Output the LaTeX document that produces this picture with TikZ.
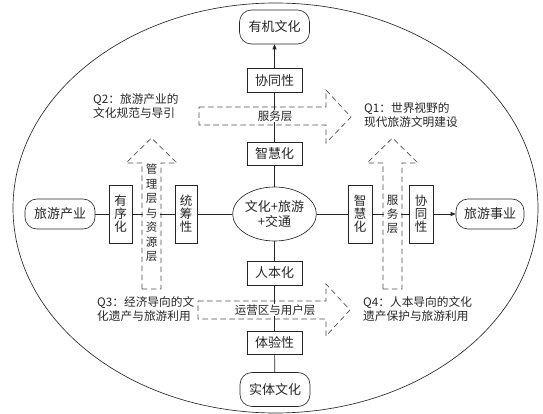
\documentclass[tikz,border=0pt]{standalone}
\usepackage{fontspec}
\setmainfont{Noto Sans CJK SC}
\usetikzlibrary{backgrounds,arrows.meta,shapes.geometric}
\definecolor{ink}{gray}{0.15}
\definecolor{dashink}{gray}{0.3}
\tikzset{
  box/.style={draw=ink, fill=white, line width=0.65pt, inner sep=0pt, text=ink,
    font=\fontsize{13}{14}\selectfont},
  hbox/.style={box, minimum width=55pt, minimum height=24pt},
  vbox/.style={box, minimum width=23pt, minimum height=58pt, align=center,
    font=\fontsize{12.5}{13}\selectfont},
  endbox/.style={box, rounded corners=12pt, minimum width=70pt, minimum height=34pt},
  conn/.style={draw=ink, line width=0.65pt},
  arr/.style={conn, -{Triangle[length=5pt,width=4pt]}},
  dashshape/.style={draw=dashink, line width=0.65pt, dash pattern=on 5.5pt off 3.5pt},
  bandlabel/.style={fill=white, inner sep=1pt, text=ink, font=\fontsize{11.5}{14}\selectfont},
  vlabel/.style={fill=white, inner xsep=2.5pt, inner ysep=1pt, text=ink, align=center,
    font=\fontsize{11.5}{14.5}\selectfont},
  qtext/.style={inner sep=0pt, text=ink, align=left, anchor=north west,
    font=\fontsize{11.7}{14.5}\selectfont}
}
\begin{document}
\begin{tikzpicture}[x=1pt,y=-1pt]
\useasboundingbox (0,0) rectangle (543,414);

% central column
\node[endbox] (yj) at (274.5,27) {有机文化};
\node[hbox] (xt1) at (274.5,80.5) {协同性};
\node[hbox, minimum height=23pt] (zh1) at (274.5,153.5) {智慧化};
\node[box, ellipse, minimum width=73pt, minimum height=54pt, align=center,
  font=\fontsize{13}{15}\selectfont] (ctr) at (274.5,214) {文化+旅游\\+交通};
\node[hbox] (rb) at (274.5,273) {人本化};
\node[hbox, minimum height=23pt] (tyx) at (274.5,342.5) {体验性};
\node[endbox] (stwh) at (275,389.5) {实体文化};

% horizontal row
\node[endbox, minimum height=30pt] (lycy) at (60,214) {旅游产业};
\node[vbox] (yxh) at (120.5,214) {有\\序\\化};
\node[vbox, minimum width=22pt] (tcx) at (186,214) {统\\筹\\性};
\node[vbox, minimum width=24pt] (zh2) at (360,214) {智\\慧\\化};
\node[vbox, minimum width=24pt] (xt2) at (421,214) {协\\同\\性};
\node[endbox, minimum width=68pt, minimum height=30pt] (lysy) at (490,214) {旅游事业};

% band labels
\node[bandlabel] (fwc1) at (275,116) {服务层};
\node[bandlabel] (yyq) at (275,310) {运营区与用户层};
\node[vlabel] (glc) at (151.5,213) {管\\理\\层\\与\\资\\源\\层};
\node[vlabel, font=\fontsize{11.5}{14}\selectfont] (fwc2) at (392.5,214) {服\\务\\层};

% quadrant texts
\node[qtext] (q2) at (93,93) {Q2：旅游产业的\\文化规范与导引};
\node[qtext] (q1) at (364,102) {Q1：世界视野的\\现代旅游文明建设};
\node[qtext] (q3) at (97,296) {Q3：经济导向的文\\化遗产与旅游利用};
\node[qtext] (q4) at (363,296) {Q4：人本导向的文化\\遗产保护与旅游利用};

\begin{scope}[on background layer]
  \draw[ink, line width=0.65pt] (275.5,208) ellipse [x radius=262.5pt, y radius=205pt];
  % dashed arrows
  \draw[dashshape] (199,107) -- (326,107) -- (326,90) -- (351,117) -- (326,143) -- (326,125) -- (199,125) -- cycle;
  \draw[dashshape] (198,301) -- (326,301) -- (326,284) -- (350,310) -- (326,336) -- (326,319) -- (198,319) -- cycle;
  \draw[dashshape] (142,289) -- (142,163) -- (126,163) -- (151.5,138) -- (177,163) -- (161,163) -- (161,289) -- cycle;
  \draw[dashshape] (383,289) -- (383,163) -- (367,163) -- (392.5,138) -- (418,163) -- (402,163) -- (402,289) -- cycle;
  % connectors
  \draw[arr] (xt1) -- (yj);
  \draw[conn] (xt1) -- (zh1);
  \draw[conn] (zh1) -- (ctr);
  \draw[conn] (ctr) -- (rb);
  \draw[conn] (rb) -- (tyx);
  \draw[conn] (tyx) -- (stwh);
  \draw[conn] (lycy) -- (yxh);
  \draw[conn] (yxh) -- (tcx);
  \draw[conn] (tcx) -- (ctr);
  \draw[conn] (ctr) -- (zh2);
  \draw[conn] (zh2) -- (xt2);
  \draw[arr] (xt2) -- (lysy);
\end{scope}
\end{tikzpicture}
\end{document}
